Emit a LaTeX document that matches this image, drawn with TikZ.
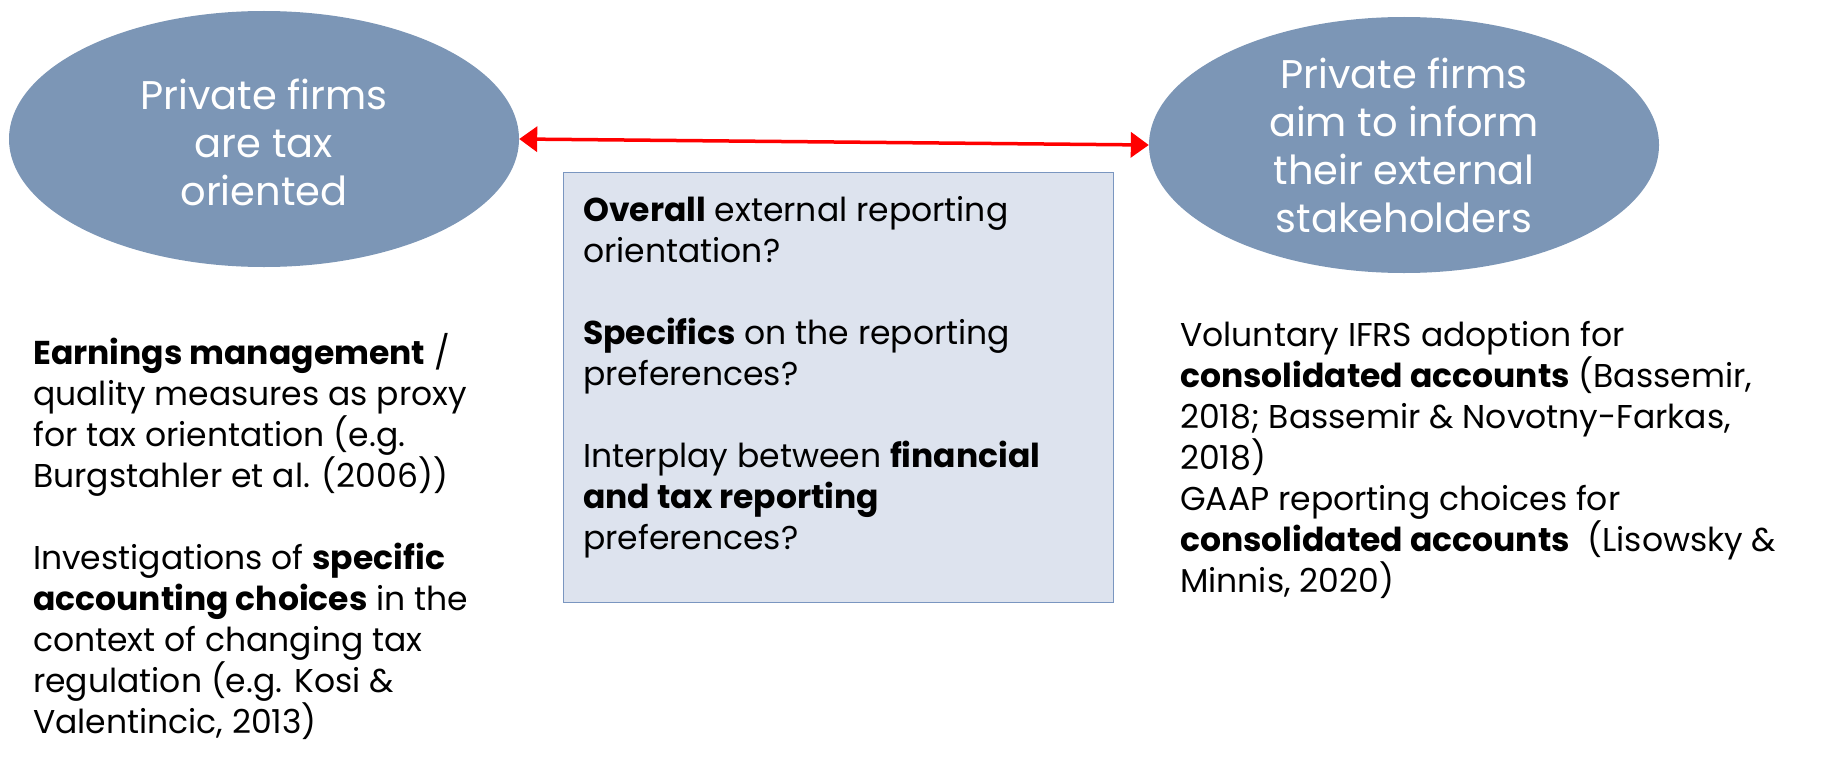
\documentclass[tikz,border=0pt]{standalone}
\usepackage{fontspec}
\setmainfont{Poppins}
\usetikzlibrary{shapes.geometric,arrows.meta,positioning}
\definecolor{ellfill}{RGB}{124,150,182}
\definecolor{boxfill}{RGB}{221,227,238}
\definecolor{boxline}{RGB}{122,150,192}
\tikzset{
oval/.style = {ellipse, fill=ellfill, minimum width=510pt, minimum height=256pt, inner sep=0pt},
ovaltext/.style = {text=white, align=center, inner sep=0pt, font=\fontsize{40}{48}\selectfont},
question/.style = {rectangle, draw=boxline, line width=1.2pt, fill=boxfill, minimum width=550pt, minimum height=430pt, anchor=north west},
notes/.style = {align=left, anchor=north west, inner sep=0pt, font=\fontsize{33}{41}\selectfont},
link/.style = {{Triangle[length=18pt,width=25pt]}-{Triangle[length=18pt,width=25pt]}, red, line width=3.5pt}
}

\begin{document}
\begin{tikzpicture}[x=1pt, y=-1pt]
  \useasboundingbox (0,0) rectangle (1827,760);

  \node [oval]                  (taxell)    at (264,139)  {};
  \node [oval]                  (infoell)   at (1404,145) {};
  \node [ovaltext]              (taxtext)   at (264,142)  {Private firms\\are tax\\oriented};
  \node [ovaltext]              (infotext)  at (1404,145) {Private firms\\aim to inform\\their external\\stakeholders};

  \node [question]              (questbox)  at (563,172)  {};
  \node [notes]                 (questtext) at (583,196)  {\textbf{Overall} external reporting\\
    orientation?\\[41pt]
    \textbf{Specifics} on the reporting\\
    preferences?\\[41pt]
    Interplay between \textbf{financial}\\
    \textbf{and tax reporting}\\
    preferences?};

  \node [notes]                 (taxlit)    at (33,333)   {\textbf{Earnings management} /\\
    quality measures as proxy\\
    for tax orientation (e.g.\\
    Burgstahler et al. (2006))\\[41pt]
    Investigations of \textbf{specific}\\
    \textbf{accounting choices} in the\\
    context of changing tax\\
    regulation (e.g. Kosi \&\\
    Valentincic, 2013)};

  \node [notes]                 (infolit)   at (1180,321) {Voluntary IFRS adoption for\\
    \textbf{consolidated accounts} (Bassemir,\\
    2018; Bassemir \& Novotny-Farkas,\\
    2018)\\
    GAAP reporting choices for\\
    \textbf{consolidated accounts}~~(Lisowsky \&\\
    Minnis, 2020)};

  \draw [link] (taxell.east) -- (infoell.west);
\end{tikzpicture}
\end{document}
